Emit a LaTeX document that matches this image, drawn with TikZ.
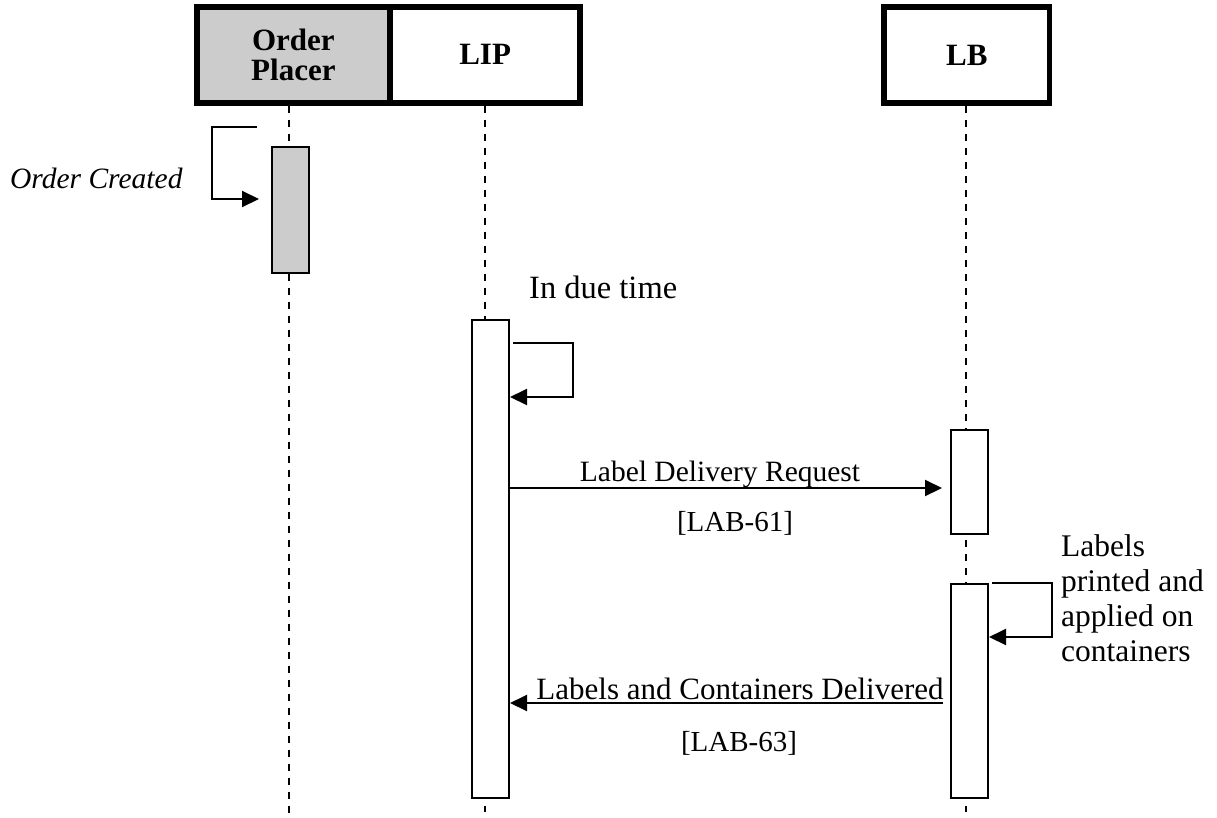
\documentclass[tikz,border=0pt]{standalone}
\usepackage{fontspec}
\setmainfont{Liberation Serif}
\usetikzlibrary{arrows.meta}
\definecolor{actgray}{RGB}{204,204,204}
\tikzset{
  hdr/.style={draw, line width=5.5pt, minimum height=96pt, inner sep=0pt, align=center,
    font=\fontsize{31}{30}\selectfont\bfseries},
  act/.style={draw, line width=2pt, minimum width=37pt, inner sep=0pt, fill=white},
  life/.style={line width=2.3pt, dash pattern=on 7pt off 7pt},
  msg/.style={line width=2pt, -{Triangle[length=17pt,width=16pt]}},
  lbl/.style={inner sep=0pt, font=\fontsize{30}{35}\selectfont}
}
\begin{document}
\begin{tikzpicture}[x=1pt,y=-1pt]
\useasboundingbox (0,0) rectangle (1217,817);
% headers
\node[hdr, fill=actgray, minimum width=193.25pt] (op) at (293.4,54.75) {Order\\Placer};
\node[hdr, minimum width=190.25pt] (lip) at (485.1,54.75) {LIP};
\node[hdr, minimum width=165.5pt] (lb) at (966.75,55) {LB};
% lifelines
\coordinate (opend) at (289,815);
\coordinate (lipend) at (485,812);
\coordinate (lbend) at (966,812);
\draw[life] (289,105.5) -- (opend);
\draw[life] (485,105.5) -- (lipend);
\draw[life] (966,106) -- (lbend);
% activations
\node[act, fill=actgray, minimum height=126pt] (a1) at (290.5,209.5) {};
\node[act, minimum height=478pt] (a2) at (490.5,559) {};
\node[act, minimum height=104pt] (b1) at (969.5,482) {};
\node[act, minimum height=214pt] (b2) at (969.5,691) {};
% Order created
\coordinate (oc) at (257,127);
\draw[msg] (oc) -- (212,127) -- (212,199) -- ([xshift=-12pt]a1.west |- 0,199);
\node[lbl, anchor=west, font=\fontsize{29.5}{35}\selectfont\itshape] (octxt) at (10,178) {Order Created};
% In due time
\node[lbl, anchor=west, font=\fontsize{32.5}{35}\selectfont] (due) at (529,287) {In due time};
\draw[msg] ([xshift=3pt]a2.east |- 0,343) -- (573,343) -- (573,397) -- (a2.east |- 0,397);
% Label delivery request
\draw[msg] (a2.east |- 0,488) -- ([xshift=-8pt]b1.west |- 0,488);
\node[lbl, font=\fontsize{29.5}{35}\selectfont] (ldr) at (720,474) {Label Delivery Request};
\node[lbl, font=\fontsize{29}{35}\selectfont] (l61) at (735,523) {[LAB-61]};
% LB self
\draw[msg] ([xshift=3pt]b2.east |- 0,583) -- (1052,583) -- (1052,637) -- (b2.east |- 0,637);
\node[lbl, anchor=north west, align=left, font=\fontsize{31.5}{35}\selectfont] (lpa) at (1061,534) {Labels\\printed and\\applied on\\containers};
% Labels and containers delivered
\draw[msg] ([xshift=-7pt]b2.west |- 0,703) -- (a2.east |- 0,703);
\node[lbl, font=\fontsize{31}{35}\selectfont] (lcd) at (740,689) {Labels and Containers Delivered};
\node[lbl, font=\fontsize{29}{35}\selectfont] (l63) at (739,743) {[LAB-63]};
\end{tikzpicture}
\end{document}
